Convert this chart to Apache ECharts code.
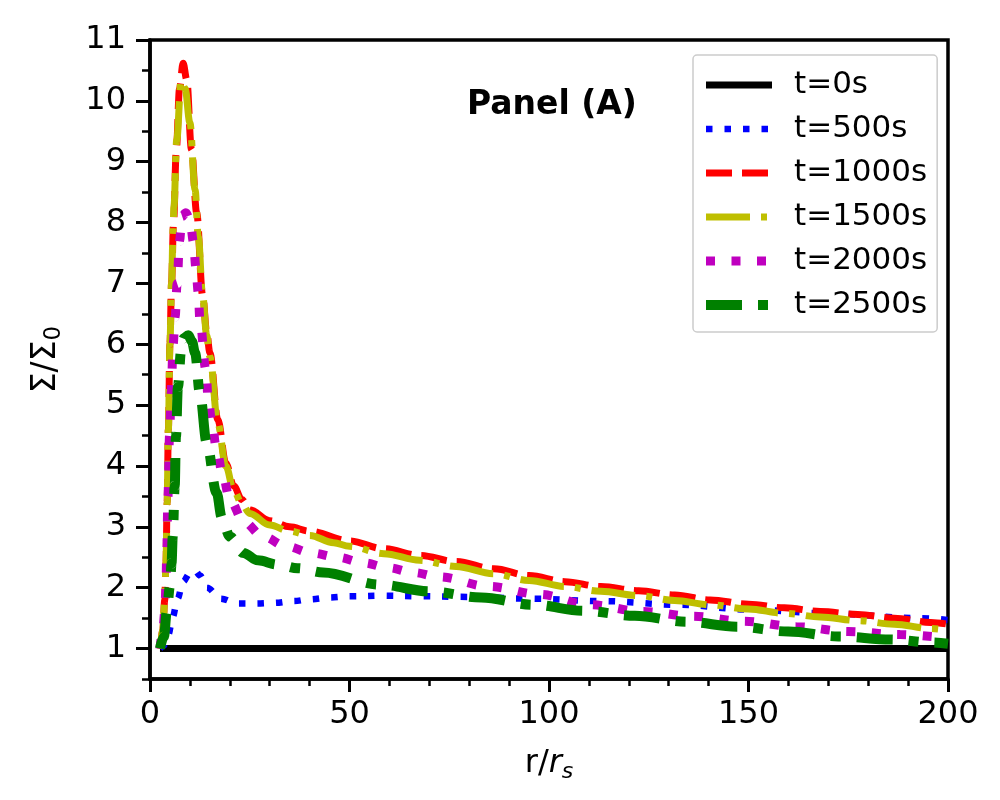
<!DOCTYPE html>
<html>
<head>
<meta charset="utf-8">
<script src="https://cdn.jsdelivr.net/npm/echarts@6/dist/echarts.min.js"></script>
<style>
  html, body { margin: 0; padding: 0; background: #fff; }
  #chart { width: 1000px; height: 800px; }
</style>
</head>
<body>
<div id="chart"></div>
<script>
// radius r/r_s vs surface density Sigma/Sigma_0
const t0 = [[2.5, 1.0], [200, 1.0]];

const t500 = [[2.5, 1.0], [3.5, 1.05], [4.6, 1.23], [5.7, 1.52], [6.9, 1.82], [8.3, 2.1], [10, 2.24],
  [11.3, 2.28], [12.5, 2.2], [14.3, 2.0], [17.7, 1.82], [22, 1.74], [26.7, 1.74], [31, 1.75],
  [36, 1.78], [40, 1.81], [45, 1.84], [50, 1.86], [58.6, 1.87], [68, 1.86], [77.7, 1.85],
  [95.5, 1.82], [113.5, 1.78], [132.5, 1.72], [150.4, 1.64], [169.4, 1.58], [192.7, 1.5], [200, 1.47]];

const t1000 = [[2.6, 1.0], [3.2, 1.3], [3.7, 1.8], [4.0, 2.4], [4.3, 3.4], [4.6, 4.6], [5.0, 6.0],
  [5.4, 7.0], [5.9, 8.0], [6.6, 9.2], [7.4, 10.2], [8.3, 10.62], [9.2, 10.35], [10.4, 9.2],
  [11.7, 8.16], [13.2, 6.8], [14.2, 6.2], [15, 5.86], [17, 4.76], [19, 4.05], [21, 3.67],
  [23, 3.45], [25, 3.28], [30, 3.1], [35, 3.0], [40, 2.93], [50, 2.77], [58.6, 2.64],
  [67.6, 2.53], [76.7, 2.43], [86.2, 2.31], [95, 2.2], [104, 2.1], [113, 2.02], [122.5, 1.95],
  [131.5, 1.88], [140.4, 1.8], [150, 1.73], [159, 1.67], [168, 1.61], [177.4, 1.56],
  [186.5, 1.5], [195.7, 1.43], [200, 1.4]];

const t1500 = [[2.6, 1.0], [3.2, 1.3], [3.7, 1.8], [4.0, 2.4], [4.3, 3.4], [4.6, 4.6], [5.0, 6.0],
  [5.4, 7.0], [5.8, 7.9], [6.0, 8.26], [6.7, 9.36], [7.8, 10.34], [8.8, 10.2], [10, 9.64],
  [11.3, 8.54], [12.1, 7.77], [13.2, 6.8], [14.2, 6.15], [15, 5.8], [17, 4.7], [19, 4.0],
  [21, 3.6], [23, 3.38], [25, 3.22], [30, 3.03], [35, 2.93], [40, 2.86], [46, 2.74], [50, 2.68],
  [58.6, 2.56], [67.6, 2.45], [76.7, 2.35], [86.2, 2.23], [95, 2.12], [104, 2.02], [113, 1.94],
  [122.5, 1.87], [131.5, 1.79], [140.4, 1.72], [150, 1.65], [159, 1.58], [168, 1.52],
  [177.4, 1.46], [186.5, 1.4], [195.7, 1.33], [200, 1.3]];

const t2000 = [[2.5, 1.0], [3.2, 1.3], [3.7, 1.6], [4.0, 2.0], [4.2, 2.6], [4.5, 3.5], [4.9, 4.5],
  [5.3, 5.2], [5.8, 6.0], [6.3, 6.45], [6.8, 7.0], [7.4, 7.7], [8.0, 8.1], [9.0, 8.16],
  [10, 8.05], [10.9, 7.68], [11.5, 7.26], [12.1, 6.85], [12.5, 6.4], [14, 5.58], [14.6, 5.09],
  [15.5, 4.71], [16.7, 4.27], [18.2, 3.86], [20, 3.45], [23.4, 3.09], [28.3, 2.84],
  [34.2, 2.68], [40.5, 2.57], [47, 2.5], [53.4, 2.41], [59.7, 2.33], [66, 2.25], [72.3, 2.18],
  [85, 2.02], [97.6, 1.89], [110, 1.72], [123.5, 1.61], [136, 1.53], [148.8, 1.45],
  [162, 1.36], [175, 1.28], [188, 1.23], [200, 1.17]];

const t2500 = [[2.5, 1.0], [3.5, 1.2], [4.2, 1.6], [5, 2.02], [5.4, 2.4], [5.7, 2.84], [6.2, 3.67],
  [6.5, 4.48], [7, 5.3], [7.8, 5.9], [8.5, 6.1], [9.6, 6.15], [10.5, 6.05], [11.3, 5.86],
  [12.5, 5.2], [14.2, 4.38], [16.7, 3.56], [18, 3.15], [20, 2.84], [23.4, 2.57], [27, 2.45],
  [32, 2.38], [37, 2.32], [43.4, 2.25], [57.6, 2.05], [70, 1.94], [83, 1.84], [96, 1.72],
  [108.8, 1.62], [121.5, 1.54], [134.6, 1.44], [147, 1.36], [160, 1.28], [172.5, 1.2],
  [185.6, 1.15], [196, 1.1], [200, 1.08]];

const seriesNames = ['t=0s', 't=500s', 't=1000s', 't=1500s', 't=2000s', 't=2500s'];
const yMajorTicks = [1, 2, 3, 4, 5, 6, 7, 8, 9, 10, 11];
const yMinorTicks = [0.5, 1.5, 2.5, 3.5, 4.5, 5.5, 6.5, 7.5, 8.5, 9.5, 10.5];

const font = 'DejaVu Sans';

// colour, width, dash pattern for each curve (same order as seriesNames)
const styles = [
    { color: '#000000', width: 7, type: 'solid' },
    { color: '#0000ff', width: 6.5, type: [6.5, 12] },
    { color: '#ff0000', width: 7, type: [26, 10] },
    { color: '#bfbf00', width: 7, type: [44, 11, 6, 11] },
    { color: '#bf00bf', width: 9, type: [9, 16.5] },
    { color: '#008000', width: 10, type: [36, 16, 10, 16] }
];
const curves = [t0, t500, t1000, t1500, t2000, t2500];

const chart = echarts.init(document.getElementById('chart'));
chart.setOption({
    backgroundColor: '#fff',
    animation: false,
    title: {
        text: 'Panel (A)',
        left: 462,
        top: 84,
        textStyle: { fontFamily: font, fontWeight: 'bold', fontSize: 33, color: '#000' }
    },
    grid: {
        left: 150, right: 52, top: 40, bottom: 121,
        show: true, borderColor: '#000', borderWidth: 3.5, backgroundColor: 'transparent'
    },
    legend: {
        data: seriesNames.map((n, i) => ({
            name: n,
            itemStyle: { opacity: 0 },
            lineStyle: { color: styles[i].color, width: styles[i].width, type: styles[i].type, cap: 'butt' }
        })),
        orient: 'vertical',
        left: 693,
        top: 55,
        padding: [13, 10, 10, 8],
        itemGap: 10,
        itemWidth: 66,
        itemHeight: 22,
        backgroundColor: '#fff',
        borderColor: '#cccccc',
        borderWidth: 1.5,
        borderRadius: 4,
        textStyle: { fontFamily: font, fontSize: 31, color: '#000', padding: [0, 0, 0, 17], lineHeight: 34 }
    },
    xAxis: {
        type: 'value',
        min: 0,
        max: 200,
        interval: 50,
        name: '{a|r/}{b|r}{c|s}',
        nameLocation: 'middle',
        nameGap: 66,
        nameTextStyle: {
            rich: {
                a: { fontFamily: font, fontSize: 32, color: '#000' },
                b: { fontFamily: font, fontSize: 32, fontStyle: 'italic', color: '#000' },
                c: { fontFamily: font, fontSize: 22, fontStyle: 'italic', color: '#000', padding: [16, 0, 0, 0] }
            }
        },
        axisLine: { lineStyle: { color: '#000', width: 3.5 } },
        axisTick: { length: 13, lineStyle: { color: '#000', width: 3 } },
        minorTick: { show: true, splitNumber: 5, length: 7, lineStyle: { color: '#000', width: 2.5 } },
        axisLabel: { fontFamily: font, fontSize: 32, color: '#000', margin: 20 },
        splitLine: { show: false }
    },
    yAxis: [
        {
            type: 'value',
            min: 0.5,
            max: 11,
            name: '{a|Σ/Σ}{b|0}',
            nameLocation: 'middle',
            nameGap: 84,
            nameRotate: 90,
            nameTextStyle: {
                rich: {
                    a: { fontFamily: font, fontSize: 33, color: '#000' },
                    b: { fontFamily: font, fontSize: 23, color: '#000', padding: [16, 0, 0, 0] }
                }
            },
            axisLine: { lineStyle: { color: '#000', width: 3.5 } },
            axisTick: { length: 14, customValues: yMajorTicks, lineStyle: { color: '#000', width: 3 } },
            axisLabel: { fontFamily: font, fontSize: 32, color: '#000', margin: 24, customValues: yMajorTicks },
            splitLine: { show: false }
        },
        {
            type: 'value',
            min: 0.5,
            max: 11,
            position: 'left',
            axisLine: { show: false },
            axisTick: { length: 8, customValues: yMinorTicks, lineStyle: { color: '#000', width: 2.5 } },
            axisLabel: { show: false },
            splitLine: { show: false }
        }
    ],
    series: curves.map((d, i) => ({
        name: seriesNames[i],
        type: 'line',
        data: d,
        symbol: 'none',
        smooth: 0.35,
        smoothMonotone: 'x',
        lineStyle: { color: styles[i].color, width: styles[i].width, type: styles[i].type, cap: 'butt' },
        itemStyle: { color: styles[i].color },
        z: 3
    }))
});
</script>
</body>
</html>
